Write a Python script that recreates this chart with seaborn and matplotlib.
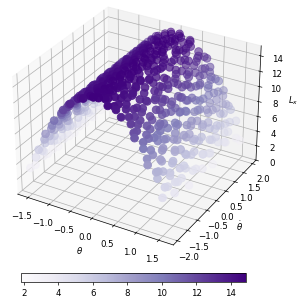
import matplotlib
matplotlib.use('Agg')
import matplotlib.pyplot as plt
import seaborn as sns

# values, one row per band of theta
theta = [
    -1.55,-1.56,-1.53,-1.55,-1.54,-1.57,-1.52,-1.55,-1.56,-1.53,-1.55,-1.52,-1.56,-1.54,-1.55,-1.53,
    -1.45,-1.43,-1.47,-1.42,-1.46,-1.44,-1.48,-1.43,-1.45,-1.47,-1.42,-1.44,-1.46,-1.43,-1.45,-1.48,
    -1.35,-1.33,-1.37,-1.34,-1.32,-1.36,-1.38,-1.35,-1.33,-1.36,-1.34,-1.37,-1.32,-1.35,-1.33,-1.36,
    -1.25,-1.27,-1.22,-1.26,-1.24,-1.28,-1.23,-1.25,-1.27,-1.24,-1.22,-1.26,-1.25,-1.23,-1.27,-1.24,
    -1.15,-1.13,-1.17,-1.12,-1.16,-1.14,-1.18,-1.15,-1.12,-1.17,-1.14,-1.16,-1.13,-1.15,-1.18,-1.14,
    -1.05,-1.07,-1.03,-1.06,-1.02,-1.05,-1.08,-1.04,-1.06,-1.03,-1.07,-1.05,-1.02,-1.06,-1.04,-1.07,
    -0.95,-0.93,-0.97,-0.92,-0.96,-0.94,-0.98,-0.95,-0.93,-0.97,-0.94,-0.92,-0.96,-0.95,-0.93,-0.97,
    -0.85,-0.87,-0.83,-0.86,-0.82,-0.85,-0.88,-0.84,-0.86,-0.83,-0.87,-0.85,-0.82,-0.86,-0.84,-0.87,
    -0.75,-0.73,-0.77,-0.74,-0.72,-0.76,-0.78,-0.75,-0.73,-0.76,-0.74,-0.77,-0.72,-0.75,-0.73,-0.76,
    -0.65,-0.67,-0.62,-0.66,-0.64,-0.68,-0.63,-0.65,-0.67,-0.64,-0.62,-0.66,-0.65,-0.63,-0.67,-0.64,
    -0.55,-0.53,-0.57,-0.52,-0.56,-0.54,-0.58,-0.55,-0.52,-0.57,-0.54,-0.56,-0.53,-0.55,-0.58,-0.54,
    -0.45,-0.47,-0.43,-0.46,-0.42,-0.45,-0.48,-0.44,-0.46,-0.43,-0.47,-0.45,-0.42,-0.46,-0.44,-0.47,
    -0.35,-0.33,-0.37,-0.34,-0.32,-0.36,-0.38,-0.35,-0.33,-0.36,-0.34,-0.37,-0.32,-0.35,-0.33,-0.36,
    -0.25,-0.27,-0.22,-0.26,-0.24,-0.28,-0.23,-0.25,-0.27,-0.24,-0.22,-0.26,-0.25,-0.23,-0.27,-0.24,
    -0.15,-0.13,-0.17,-0.12,-0.16,-0.14,-0.18,-0.15,-0.12,-0.17,-0.14,-0.16,-0.13,-0.15,-0.18,-0.14,
    -0.05,-0.07,-0.03,-0.06,-0.02,-0.05,-0.08,-0.04,-0.06,-0.03,-0.07,-0.05,-0.02,-0.06,-0.04,-0.07,
    0.05,0.07,0.03,0.06,0.02,0.05,0.08,0.04,0.06,0.03,0.07,0.05,0.02,0.06,0.04,0.07,
    0.15,0.18,0.12,0.16,0.21,0.14,0.19,0.11,0.17,0.13,0.2,0.15,0.12,0.18,0.14,0.16,
    0.28,0.24,0.31,0.26,0.33,0.22,0.3,0.27,0.35,0.25,0.29,0.23,0.32,0.28,0.26,0.34,
    0.42,0.38,0.46,0.41,0.36,0.44,0.39,0.47,0.43,0.37,0.45,0.4,0.48,0.38,0.44,0.41,
    0.55,0.51,0.59,0.53,0.62,0.5,0.57,0.6,0.52,0.56,0.63,0.54,0.58,0.51,0.61,0.55,
    0.7,0.66,0.74,0.68,0.77,0.65,0.72,0.75,0.67,0.71,0.78,0.69,0.73,0.66,0.76,0.7,
    0.85,0.81,0.89,0.83,0.92,0.8,0.87,0.9,0.82,0.86,0.93,0.84,0.88,0.81,0.91,0.85,
    1.0,0.96,1.04,0.98,1.07,0.95,1.02,1.05,0.97,1.01,1.08,0.99,1.03,0.96,1.06,1.0,
    1.15,1.11,1.19,1.13,1.22,1.1,1.17,1.2,1.12,1.16,1.23,1.14,1.18,1.11,1.21,1.15,
    1.3,1.26,1.34,1.28,1.37,1.25,1.32,1.35,1.27,1.31,1.38,1.29,1.33,1.26,1.36,1.3,
    1.45,1.41,1.49,1.43,1.52,1.4,1.47,1.5,1.42,1.46,1.53,1.44,1.48,1.41,1.51,1.56,
    0.1,0.09,0.13,0.1,0.12,0.08,0.11,0.14,0.09,0.1,0.13,0.12,0.08,0.11,0.1,0.14,
    0.36,0.33,0.39,0.35,0.31,0.38,0.34,0.37,0.32,0.4,0.36,0.33,0.38,0.35,0.31,0.39,
    0.62,0.58,0.65,0.6,0.67,0.57,0.63,0.66,0.59,0.61,0.68,0.56,0.64,0.6,0.66,0.62,
    0.8,0.76,0.84,0.78,0.86,0.75,0.82,0.85,0.77,0.79,0.87,0.74,0.83,0.78,0.81,0.84,
    0.95,0.91,0.99,0.93,1.01,0.9,0.97,1.0,0.92,0.94,1.02,0.89,0.98,0.93,0.96,0.99,
    1.1,1.06,1.14,1.08,1.16,1.05,1.12,1.15,1.07,1.09,1.17,1.04,1.13,1.08,1.11,1.14,
    1.25,1.21,1.29,1.23,1.31,1.2,1.27,1.3,1.22,1.24,1.32,1.19,1.28,1.23,1.26,1.29,
    1.4,1.36,1.44,1.38,1.46,1.35,1.42,1.45,1.37,1.39,1.47,1.34,1.43,1.38,1.41,1.44,
]
theta_dot = [
    -1.96,-1.72,-1.41,-1.18,-0.97,-0.66,-0.48,-0.17,0.08,0.27,0.58,0.83,1.02,1.34,1.58,1.87,
    -1.88,-1.63,-1.49,-1.12,-0.88,-0.72,-0.39,-0.23,0.02,0.36,0.51,0.77,1.11,1.27,1.62,1.93,
    -1.93,-1.68,-1.37,-1.24,-0.92,-0.61,-0.44,-0.12,0.11,0.31,0.62,0.88,1.07,1.38,1.53,1.82,
    -1.84,-1.59,-1.46,-1.09,-0.83,-0.69,-0.35,-0.19,0.06,0.39,0.48,0.73,1.16,1.23,1.67,1.95,
    -1.97,-1.75,-1.33,-1.21,-0.99,-0.57,-0.52,-0.14,0.14,0.24,0.66,0.91,0.98,1.42,1.49,1.79,
    -1.86,-1.55,-1.43,-1.15,-0.79,-0.74,-0.31,-0.26,-0.03,0.42,0.54,0.69,1.19,1.31,1.71,1.91,
    -1.95,-1.66,-1.39,-1.06,-0.94,-0.63,-0.41,-0.09,0.17,0.29,0.59,0.86,1.04,1.36,1.56,1.84,
    -1.81,-1.61,-1.51,-1.19,-0.85,-0.68,-0.46,-0.21,0.04,0.34,0.47,0.79,1.13,1.26,1.64,1.97,
    -1.92,-1.77,-1.35,-1.11,-0.96,-0.59,-0.38,-0.16,0.12,0.37,0.64,0.92,1.01,1.41,1.51,1.77,
    -1.85,-1.57,-1.44,-1.23,-0.81,-0.71,-0.33,-0.06,0.09,0.26,0.56,0.76,1.17,1.29,1.69,1.89,
    -1.98,-1.7,-1.31,-1.14,-0.91,-0.64,-0.5,-0.18,0.16,0.33,0.61,0.84,1.09,1.33,1.59,1.86,
    -1.83,-1.64,-1.47,-1.07,-0.87,-0.56,-0.43,-0.11,-0.01,0.41,0.49,0.71,1.14,1.37,1.66,1.94,
    -1.9,-1.53,-1.36,-1.2,-0.98,-0.67,-0.36,-0.24,0.13,0.28,0.67,0.89,0.99,1.24,1.54,1.81,
    -1.99,-1.73,-1.42,-1.1,-0.84,-0.6,-0.47,-0.08,0.19,0.38,0.53,0.81,1.06,1.43,1.61,1.9,
    -1.87,-1.58,-1.34,-1.16,-0.93,-0.73,-0.29,-0.2,0.03,0.23,0.63,0.94,1.12,1.32,1.74,1.98,
    -1.94,-1.67,-1.48,-1.03,-0.78,-0.65,-0.42,-0.13,0.07,0.35,0.57,0.74,1.08,1.39,1.52,1.85,
    -1.91,-1.6,-1.38,-1.22,-0.9,-0.55,-0.45,-0.15,0.15,0.3,0.68,0.85,1.18,1.28,1.63,1.96,
    -1.82,-1.74,-1.4,-1.05,-0.95,-0.7,-0.32,-0.22,0.1,0.4,0.52,0.9,1.03,1.44,1.57,1.83,
    -1.97,-1.56,-1.29,-1.17,-0.8,-0.62,-0.49,-0.04,0.2,0.25,0.7,0.78,1.2,1.3,1.72,1.92,
    -1.89,-1.69,-1.5,-1.13,-1.0,-0.58,-0.28,-0.25,-0.02,0.43,0.6,0.95,1.1,1.46,1.47,1.78,
    -1.93,-1.62,-1.28,-1.02,-0.86,-0.75,-0.4,-0.07,0.18,0.22,0.5,0.72,1.15,1.25,1.68,1.88,
    -1.8,-1.54,-1.45,-1.25,-0.76,-0.53,-0.34,-0.27,0.05,0.45,0.69,0.97,0.96,1.4,1.6,1.99,
    -1.95,-1.76,-1.3,-1.08,-0.89,-0.64,-0.51,-0.1,0.22,0.32,0.46,0.82,1.22,1.35,1.75,1.8,
    -1.86,-1.52,-1.26,-1.01,-1.03,-0.77,-0.37,-0.3,0.0,0.21,0.65,0.75,1.05,1.48,1.55,1.95,
    -1.98,-1.65,-1.46,-1.2,-0.82,-0.54,-0.26,-0.05,0.24,0.44,0.55,0.98,1.21,1.22,1.7,1.84,
    -1.84,-1.71,-1.32,-1.04,-0.9,-0.6,-0.47,-0.28,0.01,0.2,0.72,0.8,1.0,1.45,1.5,1.93,
    -1.92,-1.58,-1.42,-1.26,-0.77,-0.68,-0.3,-0.03,0.16,0.46,0.44,0.93,1.24,1.33,1.76,1.87,
    -1.78,-1.5,-1.22,-0.93,-0.6,-0.35,-0.02,0.22,0.47,0.7,0.92,1.25,1.47,1.65,1.88,-1.12,
    -1.85,-1.47,-1.3,-0.81,-0.52,-0.24,0.08,0.33,0.58,0.81,1.15,1.37,1.6,1.8,1.97,-1.04,
    -1.72,-1.41,-1.14,-0.88,-0.59,-0.15,0.12,0.37,0.62,0.87,1.08,1.33,1.56,1.76,1.94,-0.33,
    -1.88,-1.6,-1.35,-1.07,-0.66,-0.42,-0.09,0.28,0.53,0.77,1.02,1.28,1.51,1.71,1.91,-0.18,
    -1.76,-1.52,-1.18,-0.99,-0.71,-0.31,-0.04,0.19,0.41,0.66,0.89,1.17,1.42,1.67,1.86,-1.33,
    -1.9,-1.64,-1.27,-0.95,-0.57,-0.38,0.0,0.14,0.5,0.74,1.0,1.31,1.53,1.73,1.96,-0.7,
    -1.79,-1.44,-1.1,-0.84,-0.49,-0.21,0.06,0.36,0.6,0.84,1.13,1.39,1.58,1.83,1.9,-1.55,
    -1.7,-1.36,-1.16,-0.72,-0.44,-0.13,0.17,0.42,0.64,0.91,1.19,1.27,1.49,1.69,1.98,-0.97,
]
L_x = [
    3.3,3.1,3.6,3.3,3.4,3.0,3.7,3.3,3.1,3.6,3.3,3.7,3.1,3.4,3.3,3.6,
    4.7,5.0,4.5,5.1,4.6,4.8,4.3,5.0,4.7,4.5,5.1,4.8,4.6,5.0,4.7,4.3,
    6.0,6.3,5.8,6.2,6.4,5.9,5.6,6.0,6.3,5.9,6.2,5.8,6.4,6.0,6.3,5.9,
    7.3,7.1,7.7,7.2,7.4,7.0,7.6,7.3,7.1,7.4,7.7,7.2,7.3,7.6,7.1,7.4,
    8.5,8.7,8.2,8.8,8.4,8.6,8.1,8.5,8.8,8.2,8.6,8.4,8.7,8.5,8.1,8.6,
    9.5,9.3,9.7,9.4,9.8,9.5,9.2,9.6,9.4,9.7,9.3,9.5,9.8,9.4,9.6,9.3,
    10.5,10.6,10.3,10.7,10.4,10.5,10.2,10.5,10.6,10.3,10.5,10.7,10.4,10.5,10.6,10.3,
    11.3,11.2,11.5,11.25,11.6,11.3,11.1,11.4,11.25,11.5,11.2,11.3,11.6,11.25,11.4,11.2,
    12.1,12.2,11.95,12.15,12.3,12.0,11.9,12.1,12.2,12.0,12.15,11.95,12.3,12.1,12.2,12.0,
    12.8,12.65,13.0,12.7,12.85,12.6,12.9,12.8,12.65,12.85,13.0,12.7,12.8,12.9,12.65,12.85,
    13.35,13.45,13.25,13.5,13.3,13.4,13.2,13.35,13.5,13.25,13.4,13.3,13.45,13.35,13.2,13.4,
    13.8,13.75,13.9,13.8,13.95,13.8,13.7,13.85,13.8,13.9,13.75,13.8,13.95,13.8,13.85,13.75,
    14.2,14.3,14.15,14.25,14.3,14.2,14.1,14.2,14.3,14.2,14.25,14.15,14.3,14.2,14.3,14.2,
    14.5,14.45,14.55,14.5,14.5,14.4,14.55,14.5,14.45,14.5,14.55,14.5,14.5,14.55,14.45,14.5,
    14.7,14.7,14.65,14.7,14.7,14.7,14.65,14.7,14.7,14.65,14.7,14.7,14.7,14.7,14.65,14.7,
    14.85,14.8,14.9,14.85,14.9,14.85,14.8,14.85,14.85,14.9,14.8,14.85,14.9,14.85,14.85,14.8,
    14.85,14.8,14.9,14.85,14.9,14.85,14.8,14.85,14.85,14.9,14.8,14.85,14.9,14.85,14.85,14.8,
    14.7,14.65,14.75,14.7,14.6,14.7,14.6,14.75,14.65,14.7,14.6,14.7,14.75,14.65,14.7,14.7,
    14.4,14.5,14.3,14.45,14.25,14.55,14.35,14.45,14.2,14.5,14.4,14.55,14.3,14.4,14.45,14.25,
    13.95,14.1,13.8,14.0,14.2,13.85,14.05,13.75,13.9,14.15,13.85,14.0,13.7,14.1,13.85,14.0,
    13.35,13.55,13.1,13.45,13.0,13.6,13.2,13.05,13.5,13.3,12.9,13.4,13.2,13.55,13.0,13.35,
    12.45,12.7,12.15,12.6,11.95,12.75,12.3,12.1,12.65,12.4,11.9,12.5,12.25,12.7,12.0,12.45,
    11.3,11.65,10.95,11.5,10.75,11.7,11.15,10.9,11.55,11.25,10.65,11.4,11.1,11.65,10.85,11.3,
    10.0,10.4,9.6,10.2,9.3,10.5,9.8,9.5,10.3,9.9,9.2,10.1,9.7,10.4,9.4,10.0,
    8.5,8.9,8.0,8.7,7.7,9.0,8.2,7.9,8.8,8.4,7.5,8.6,8.1,8.9,7.8,8.5,
    6.7,7.2,6.2,6.9,5.8,7.3,6.4,6.0,7.0,6.6,5.6,6.8,6.3,7.2,5.9,6.7,
    4.7,5.2,4.1,5.0,3.5,5.3,4.4,3.8,5.1,4.6,3.3,4.9,4.2,5.2,3.6,3.1,
    14.75,14.75,14.7,14.75,14.7,14.8,14.75,14.7,14.75,14.75,14.7,14.7,14.8,14.75,14.75,14.7,
    14.2,14.3,14.05,14.2,14.3,14.1,14.25,14.15,14.3,14.0,14.2,14.3,14.1,14.2,14.3,14.05,
    13.0,13.2,12.8,13.1,12.65,13.25,12.9,12.7,13.15,13.05,12.55,13.3,12.85,13.1,12.7,13.0,
    11.7,12.0,11.4,11.85,11.25,12.1,11.55,11.3,11.95,11.8,11.15,12.15,11.5,11.85,11.65,11.4,
    10.5,10.8,10.1,10.65,9.9,10.9,10.3,10.0,10.75,10.55,9.8,11.0,10.2,10.65,10.4,10.1,
    9.0,9.4,8.6,9.2,8.3,9.5,8.8,8.45,9.3,9.1,8.2,9.6,8.65,9.2,8.9,8.65,
    7.3,7.75,6.8,7.55,6.55,7.85,7.1,6.7,7.65,7.4,6.45,7.95,6.95,7.55,7.2,6.85,
    5.4,5.95,4.8,5.7,4.5,6.05,5.1,4.65,5.8,5.55,4.35,6.15,4.95,5.7,5.25,4.8,
]

purples = sns.color_palette("Purples", as_cmap=True)

fig = plt.figure(figsize=(4.8, 4.78), dpi=62.3)
ax = fig.add_axes([-0.0555, 0.116, 1.016, 0.93], projection='3d')
sc = ax.scatter(theta, theta_dot, L_x, c=L_x, cmap=purples, s=80, vmin=1.86, vmax=14.9)
ax.set_xlim(-1.75, 1.82)
ax.set_ylim(-2.2, 2.2)
ax.set_zlim(0, 15.3)
ax.set_xticks([-1.5, -1.0, -0.5, 0.0, 0.5, 1.0, 1.5])
ax.set_yticks([-2.0, -1.5, -1.0, -0.5, 0.0, 0.5, 1.0, 1.5, 2.0])
ax.set_zticks([0, 2, 4, 6, 8, 10, 12, 14])
ax.xaxis.set_rotate_label(False)
ax.yaxis.set_rotate_label(False)
ax.zaxis.set_rotate_label(False)
ax.set_xlabel(r'$\theta$')
ax.set_ylabel(r'$\dot{\theta}$')
ax.set_zlabel(r'$L_x$')

cax = fig.add_axes([21.3 / 299, 1 - 283 / 298, 225 / 299, 9 / 298])
fig.colorbar(sc, cax=cax, orientation='horizontal', ticks=[2, 4, 6, 8, 10, 12, 14])

plt.savefig('out.png', dpi=62.3)
